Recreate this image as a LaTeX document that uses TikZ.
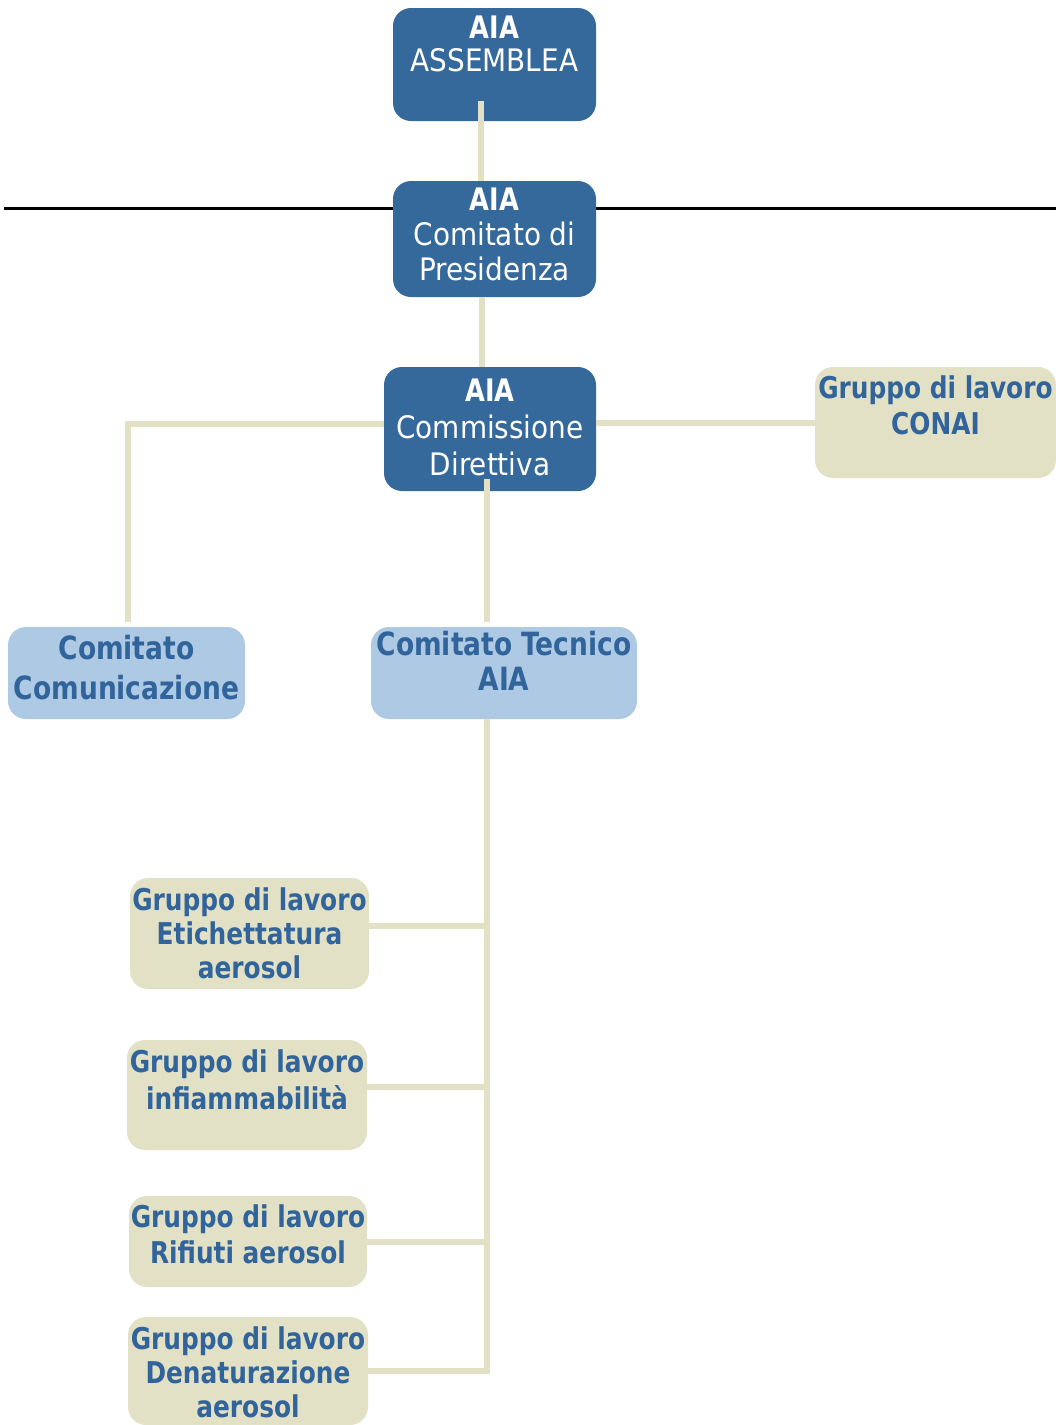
\documentclass[tikz,border=0pt]{standalone}
\usepackage{fontspec}
\setmainfont{DejaVu Sans Condensed}[BoldFeatures={FakeStretch=0.92}]
\definecolor{aiablue}{HTML}{35689B}
\definecolor{aialight}{HTML}{AEC9E4}
\definecolor{aiasand}{HTML}{E3E1C5}
\definecolor{aiatext}{HTML}{31649A}
% text block of a box: width, height, top gap, line skip, rows
\newcommand{\celltext}[5]{\parbox[c][#2][t]{#1}{\vspace*{#3}\setlength{\baselineskip}{#4}#5}}
\newcommand{\row}[1]{\makebox[\linewidth]{#1}\par}
\begin{document}
\begin{tikzpicture}[x=1pt, y=-1pt,
  every node/.style={inner sep=0pt, rounded corners=18pt},
  head/.style={fill=aiablue, text=white, font=\fontsize{31}{35}\selectfont},
  board/.style={fill=aialight, text=aiatext, font=\fontsize{32}{36}\selectfont\bfseries},
  group/.style={fill=aiasand, text=aiatext, font=\fontsize{30}{34}\selectfont\bfseries},
  conn/.style={draw=aiasand, line width=6pt}]
\useasboundingbox (0,0) rectangle (1056,1425);
% Rule behind the presidency
\draw[line width=3pt] (4,208) -- (1056,208);
% Governing bodies (dark blue)
\node[head] (asm) at (494.5,64.5) {\celltext{203pt}{113pt}{8pt}{33pt}{\row{\textbf{AIA}}\row{ASSEMBLEA}}};
\node[head] (pres) at (494.5,239) {\celltext{203pt}{116pt}{7pt}{35pt}{\row{\textbf{AIA}}\row{Comitato di}\row{Presidenza}}};
\node[head] (dir) at (490,429) {\celltext{212pt}{124pt}{12pt}{37pt}{\row{\textbf{AIA}}\row{Commissione}\row{Direttiva}}};
% Committees (light blue)
\node[board] (com) at (126.5,673) {\celltext{237pt}{92pt}{8pt}{40pt}{\row{Comitato}\row{Comunicazione}}};
\node[board] (tec) at (504,673) {\celltext{266pt}{92pt}{4pt}{35pt}{\row{Comitato Tecnico}\row{AIA}}};
% Working groups (sand)
\node[group] (conai) at (935.5,422.5) {\celltext{241pt}{111pt}{9pt}{36pt}{\row{Gruppo di lavoro}\row{CONAI}}};
\node[group] (g1) at (249.5,933.5) {\celltext{239pt}{111pt}{10pt}{34pt}{\row{Gruppo di lavoro}\row{Etichettatura}\row{aerosol}}};
\node[group] (g2) at (247,1095) {\celltext{240pt}{110pt}{10pt}{37pt}{\row{Gruppo di lavoro}\row{infiammabilità}}};
\node[group] (g3) at (248,1241.5) {\celltext{238pt}{91pt}{9pt}{36pt}{\row{Gruppo di lavoro}\row{Rifiuti aerosol}}};
\node[group] (g4) at (248,1371) {\celltext{240pt}{108pt}{10pt}{34pt}{\row{Gruppo di lavoro}\row{Denaturazione}\row{aerosol}}};
% Connectors
\coordinate (trunk) at (487,0);
\draw[conn] ([xshift=-14pt,yshift=20pt]asm.south) -- ([xshift=-14pt]pres.north);
\draw[conn] ([xshift=-13pt]pres.south) -- ([xshift=-13pt]pres.south |- dir.north);
\draw[conn] ([yshift=5pt]dir.west) -| ([xshift=1.5pt,yshift=5pt]com.north);
\draw[conn] (dir.east |- conai.west) -- (conai.west);
\draw[conn] ([yshift=12pt]dir.south -| trunk) -- ([yshift=5pt]tec.north -| trunk);
\draw[conn] (tec.south -| trunk) -- (trunk |- g4.east) -- (g4.east);
\draw[conn] ([yshift=8pt]g1.east) -- ([yshift=8pt]g1.east -| trunk);
\draw[conn] ([yshift=8pt]g2.east) -- ([yshift=8pt]g2.east -| trunk);
\draw[conn] (g3.east) -- (g3.east -| trunk);
\end{tikzpicture}
\end{document}
